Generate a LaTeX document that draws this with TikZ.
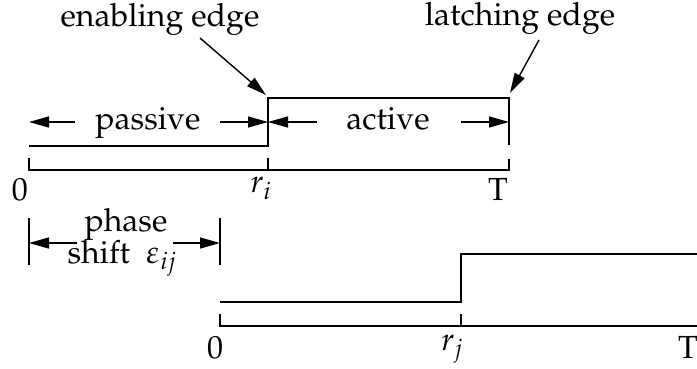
\documentclass[tikz,border=0pt]{standalone}
\usepackage[T1]{fontenc}
\usepackage{mathpazo}
\usetikzlibrary{arrows.meta}
\begin{document}
\begin{tikzpicture}[x=1pt,y=-1pt,
  wave/.style={line width=1.4pt},
  arr/.style={line width=1.4pt,-{Triangle[length=20pt,width=11pt]}},
  lbl/.style={inner sep=0pt,font=\fontsize{32}{32}\selectfont},
]
\useasboundingbox (0,0) rectangle (697,369);
% top waveform
\coordinate (a0) at (29,146);
\coordinate (a1) at (268,146);
\coordinate (a2) at (268,98);
\coordinate (a3) at (509,98);
\coordinate (a4) at (509,145);
\draw[wave] (a0) -- (a1) -- (a2) -- (a3) -- (a4);
% top axis
\coordinate (t0a) at (29,158);
\coordinate (t0b) at (29,170);
\coordinate (tia) at (268,158);
\coordinate (tib) at (268,170);
\coordinate (tTa) at (509,159);
\coordinate (tTb) at (509,170);
\draw[wave] (t0a) -- (t0b) -- (tTb) -- (tTa);
\draw[wave] (tia) -- (tib);
\node[lbl,anchor=base] (zero1) at (20,200) {0};
\node[lbl,anchor=base] (ri) at (261,193) {$r_i$};
\node[lbl,anchor=base] (T1) at (498,200) {T};
% passive / active
\coordinate (pL) at (75,122);
\coordinate (pLt) at (29,122);
\coordinate (pR) at (220,122);
\coordinate (pRt) at (268,122);
\coordinate (aL) at (317,122);
\coordinate (aR) at (461,122);
\coordinate (aRt) at (509,122);
\draw[arr] (pL) -- (pLt);
\draw[arr] (pR) -- (pRt);
\draw[arr] (aL) -- (pRt);
\draw[arr] (aR) -- (aRt);
\node[lbl,anchor=base] (passive) at (148,130) {passive};
\node[lbl,anchor=base] (active) at (388,130) {active};
% edge labels
\node[lbl,anchor=base] (en) at (160,27) {enabling edge};
\node[lbl,anchor=base] (la) at (520,26) {latching edge};
\coordinate (enS) at (200,38);
\coordinate (enE) at (266,95);
\coordinate (laS) at (539,40);
\coordinate (laE) at (510,93);
\draw[arr] (enS) -- (enE);
\draw[arr] (laS) -- (laE);
% phase shift
\coordinate (b0a) at (29,218);
\coordinate (b0b) at (29,265);
\coordinate (b1a) at (220,218);
\coordinate (b1b) at (220,265);
\draw[wave] (b0a) -- (b0b);
\draw[wave] (b1a) -- (b1b);
\coordinate (phL) at (77,243);
\coordinate (phLt) at (29,243);
\coordinate (phR) at (173,243);
\coordinate (phRt) at (220,243);
\draw[arr] (phL) -- (phLt);
\draw[arr] (phR) -- (phRt);
\node[lbl,anchor=base] (phase) at (126,231) {phase};
\node[lbl,anchor=base] (shift) at (122,263) {shift\hspace{8pt} $\varepsilon_{ij}$};
% bottom waveform
\coordinate (c0) at (220,302);
\coordinate (c1) at (461,302);
\coordinate (c2) at (461,254);
\coordinate (c3) at (697,254);
\draw[wave] (c0) -- (c1) -- (c2) -- (c3);
\coordinate (u0a) at (220,314);
\coordinate (u0b) at (220,326);
\coordinate (uja) at (461,314);
\coordinate (ujb) at (461,326);
\coordinate (uE) at (697,326);
\draw[wave] (u0a) -- (u0b) -- (uE);
\draw[wave] (uja) -- (ujb);
\node[lbl,anchor=base] (zero2) at (215,358) {0};
\node[lbl,anchor=base] (rj) at (452,350) {$r_j$};
\node[lbl,anchor=base] (T2) at (688,358) {T};
\end{tikzpicture}
\end{document}
